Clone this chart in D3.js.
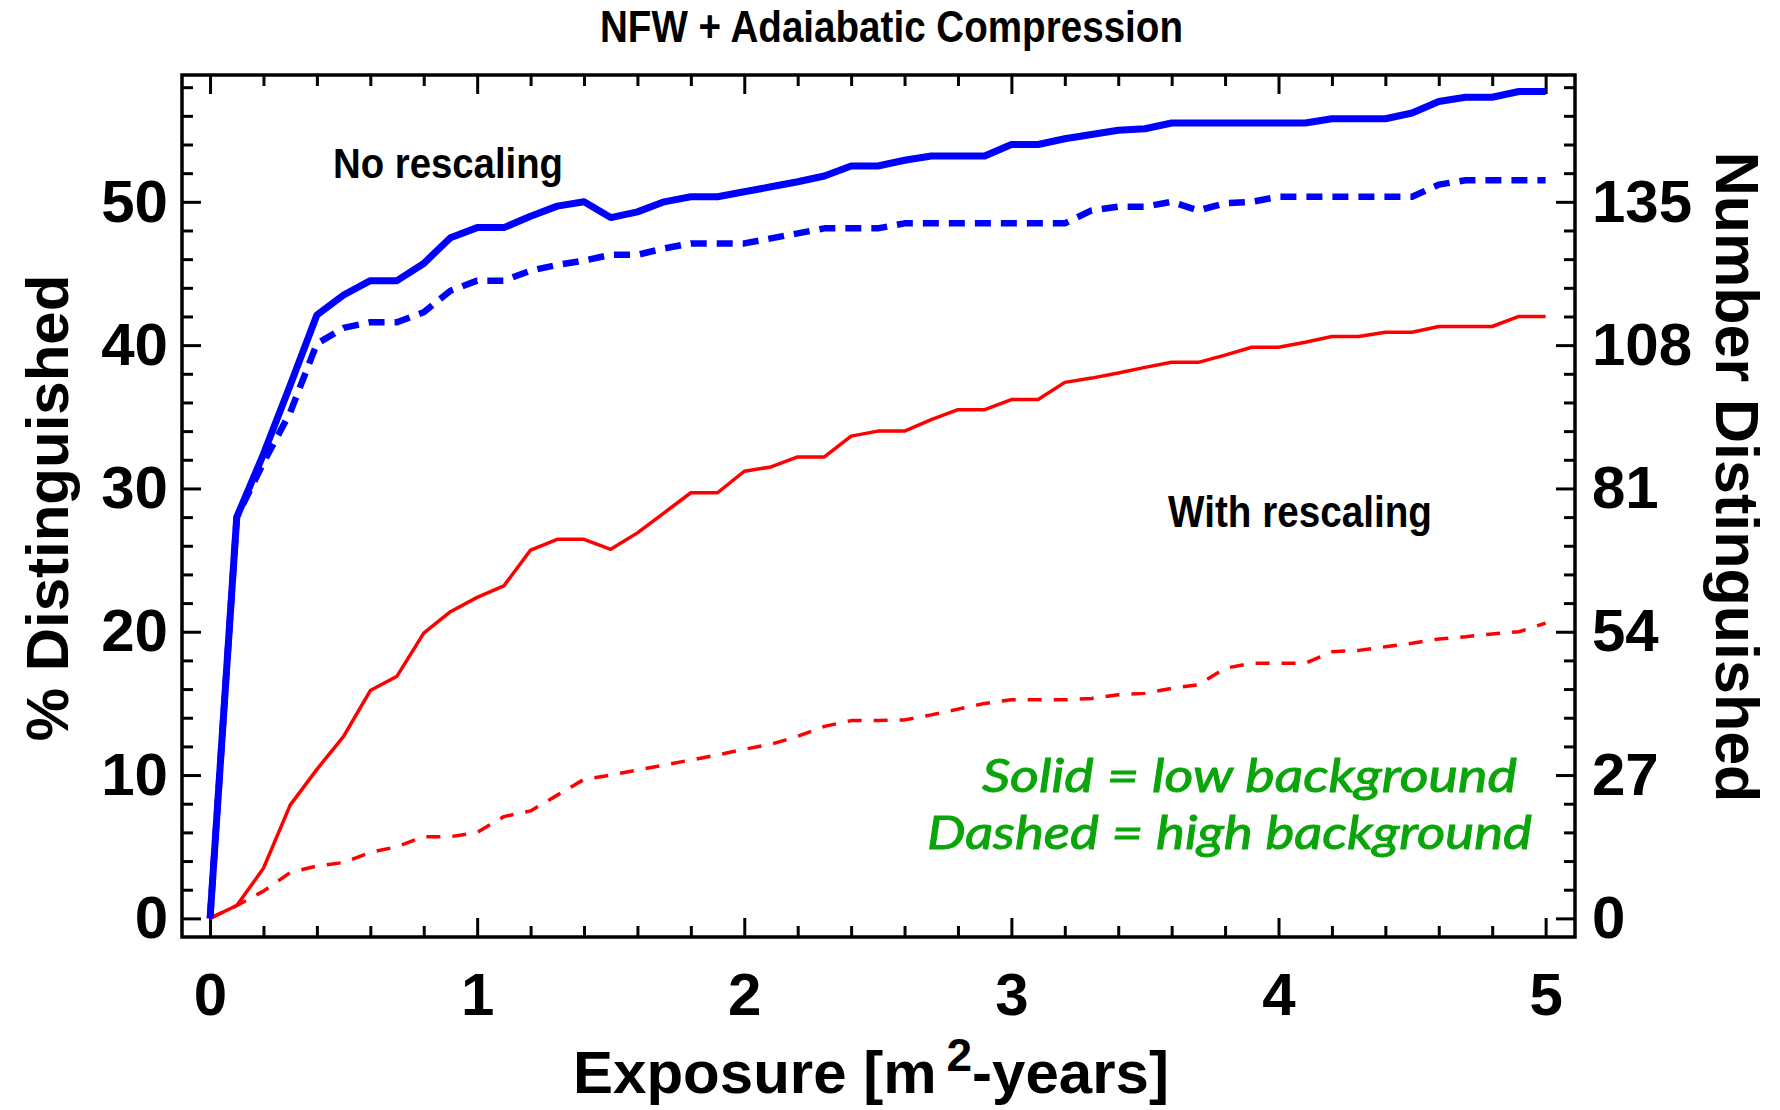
<!DOCTYPE html>
<html>
<head>
<meta charset="utf-8">
<script src="https://cdn.jsdelivr.net/npm/d3@7"></script>
<style>
  html, body { margin: 0; padding: 0; background: #ffffff; }
  svg { display: block; }
</style>
</head>
<body>
<svg id="chart" width="1780" height="1110"></svg>
<script>
// Exposure grid (m^2-years)
const exposure = [0.0,0.1,0.2,0.3,0.4,0.5,0.6,0.7,0.8,0.9,
                  1.0,1.1,1.2,1.3,1.4,1.5,1.6,1.7,1.8,1.9,
                  2.0,2.1,2.2,2.3,2.4,2.5,2.6,2.7,2.8,2.9,
                  3.0,3.1,3.2,3.3,3.4,3.5,3.6,3.7,3.8,3.9,
                  4.0,4.1,4.2,4.3,4.4,4.5,4.6,4.7,4.8,4.9,5.0];

// % distinguished, no rescaling, low background (solid blue)
const noRescaleLow = [0,28.0,32.4,37.2,42.1,43.5,44.5,44.5,45.7,47.5,
                      48.2,48.2,49.0,49.7,50.0,48.9,49.3,50.0,50.35,50.35,
                      50.7,51.05,51.4,51.8,52.5,52.5,52.9,53.2,53.2,53.2,
                      54.0,54.0,54.4,54.7,55.0,55.1,55.5,55.5,55.5,55.5,
                      55.5,55.5,55.8,55.8,55.8,56.2,57.0,57.3,57.3,57.7,57.7];

// % distinguished, no rescaling, high background (dashed blue)
const noRescaleHigh = [0,28.0,31.8,35.3,40.1,41.2,41.6,41.6,42.3,43.8,
                       44.5,44.5,45.2,45.6,45.9,46.3,46.3,46.75,47.1,47.1,
                       47.1,47.45,47.8,48.15,48.15,48.15,48.5,48.5,48.5,48.5,
                       48.5,48.5,48.5,49.4,49.66,49.66,50.0,49.4,49.9,50.0,
                       50.35,50.35,50.35,50.35,50.35,50.35,51.2,51.5,51.5,51.5,51.5];

// % distinguished, with rescaling, low background (solid red)
const rescaleLow = [0,0.9,3.5,7.9,10.4,12.7,15.9,16.9,19.9,21.4,
                    22.4,23.2,25.7,26.45,26.45,25.75,26.9,28.3,29.7,29.7,
                    31.2,31.5,32.2,32.2,33.65,34.0,34.0,34.8,35.5,35.5,
                    36.2,36.2,37.4,37.7,38.05,38.45,38.8,38.8,39.3,39.85,
                    39.85,40.2,40.6,40.6,40.9,40.9,41.3,41.3,41.3,42.0,42.0];

// % distinguished, with rescaling, high background (dashed red)
const rescaleHigh = [0,0.9,1.9,3.2,3.65,3.9,4.6,5.0,5.7,5.7,
                     6.0,7.1,7.5,8.6,9.7,10.0,10.35,10.7,11.05,11.4,
                     11.8,12.15,12.7,13.4,13.8,13.8,13.85,14.2,14.6,15.0,
                     15.25,15.25,15.25,15.35,15.6,15.7,16.05,16.3,17.45,17.8,
                     17.8,17.8,18.6,18.7,18.95,19.2,19.5,19.65,19.85,20.0,20.6];

// Tick values
const xMajorTicks = [0, 1, 2, 3, 4, 5];
const xMinorTicks = d3.range(0, 26).map(i => +(i * 0.2).toFixed(1)).filter(v => !xMajorTicks.includes(v));
const pctMajorTicks = [0, 10, 20, 30, 40, 50];
const pctMinorTicks = d3.range(0, 30).map(i => i * 2).filter(v => v % 10 !== 0);
const numMajorTicks = [0, 27, 54, 81, 108, 135];
const numMinorTicks = d3.range(0, 30).map(i => +(i * 5.4).toFixed(1)).filter(v => Math.abs(v / 27 - Math.round(v / 27)) > 1e-6 && v < 158);

// Total number of models: 100% corresponds to 270
const totalCount = 270;

const svg = d3.select("#chart");
const frame = { left: 182, right: 1575, top: 75, bottom: 937 };

const x = d3.scaleLinear().domain([-0.105, 5.11]).range([frame.left, frame.right]);
const y = d3.scaleLinear().domain([-1.3, 58.85]).range([frame.bottom, frame.top]);
const yN = d3.scaleLinear().domain([-1.3 * totalCount / 100, 58.85 * totalCount / 100]).range([frame.bottom, frame.top]);

const tickFont = "'Liberation Sans', Arial, Helvetica, sans-serif";

function styleAxis(g, labelled) {
  g.select(".domain").remove();
  g.selectAll(".tick line").attr("stroke", "#000").attr("stroke-width", 3);
  g.selectAll("text")
    .attr("fill", "#000")
    .attr("font-family", tickFont)
    .attr("font-weight", "bold")
    .attr("font-size", 60);
  if (!labelled) g.selectAll("text").remove();
}

// Bottom axis
svg.append("g").attr("transform", `translate(0,${frame.bottom})`)
  .call(d3.axisBottom(x).tickValues(xMajorTicks).tickSizeInner(-19).tickSizeOuter(0).tickPadding(35).tickFormat(d3.format("d")))
  .call(g => styleAxis(g, true));
svg.append("g").attr("transform", `translate(0,${frame.bottom})`)
  .call(d3.axisBottom(x).tickValues(xMinorTicks).tickSizeInner(-11).tickSizeOuter(0).tickFormat(""))
  .call(g => styleAxis(g, false));

// Top axis
svg.append("g").attr("transform", `translate(0,${frame.top})`)
  .call(d3.axisTop(x).tickValues(xMajorTicks).tickSizeInner(-19).tickSizeOuter(0).tickFormat(""))
  .call(g => styleAxis(g, false));
svg.append("g").attr("transform", `translate(0,${frame.top})`)
  .call(d3.axisTop(x).tickValues(xMinorTicks).tickSizeInner(-11).tickSizeOuter(0).tickFormat(""))
  .call(g => styleAxis(g, false));

// Left axis (percent)
svg.append("g").attr("transform", `translate(${frame.left},0)`)
  .call(d3.axisLeft(y).tickValues(pctMajorTicks).tickSizeInner(-19).tickSizeOuter(0).tickPadding(14).tickFormat(d3.format("d")))
  .call(g => styleAxis(g, true));
svg.append("g").attr("transform", `translate(${frame.left},0)`)
  .call(d3.axisLeft(y).tickValues(pctMinorTicks).tickSizeInner(-11).tickSizeOuter(0).tickFormat(""))
  .call(g => styleAxis(g, false));

// Right axis (number)
svg.append("g").attr("transform", `translate(${frame.right},0)`)
  .call(d3.axisRight(yN).tickValues(numMajorTicks).tickSizeInner(-19).tickSizeOuter(0).tickPadding(17).tickFormat(d3.format("d")))
  .call(g => styleAxis(g, true));
svg.append("g").attr("transform", `translate(${frame.right},0)`)
  .call(d3.axisRight(yN).tickValues(numMinorTicks).tickSizeInner(-11).tickSizeOuter(0).tickFormat(""))
  .call(g => styleAxis(g, false));

// Plot frame
svg.append("rect")
  .attr("x", frame.left).attr("y", frame.top)
  .attr("width", frame.right - frame.left).attr("height", frame.bottom - frame.top)
  .attr("fill", "none").attr("stroke", "#000").attr("stroke-width", 3.5);

// Curves
const series = [
  { values: rescaleHigh,   color: "#ff0000", width: 3.5, dash: "14,12" },
  { values: rescaleLow,    color: "#ff0000", width: 3.5, dash: null },
  { values: noRescaleLow,  color: "#0000ff", width: 7,   dash: null },
  { values: noRescaleHigh, color: "#0000ff", width: 6.5, dash: "16,10" }
];

const line = d3.line().x((d, i) => x(exposure[i])).y(d => y(d));

svg.append("g").selectAll("path").data(series).join("path")
  .attr("d", s => line(s.values))
  .attr("fill", "none")
  .attr("stroke", s => s.color)
  .attr("stroke-width", s => s.width)
  .attr("stroke-linejoin", "round")
  .attr("stroke-dasharray", s => s.dash);

// Title
svg.append("text")
  .attr("x", 600).attr("y", 42)
  .attr("font-family", tickFont).attr("font-weight", "bold").attr("font-size", 44)
  .attr("textLength", 583).attr("lengthAdjust", "spacingAndGlyphs")
  .text("NFW + Adaiabatic Compression");

// Annotations
svg.append("text")
  .attr("x", 333).attr("y", 178)
  .attr("font-family", tickFont).attr("font-weight", "bold").attr("font-size", 43)
  .attr("textLength", 230).attr("lengthAdjust", "spacingAndGlyphs")
  .text("No rescaling");

svg.append("text")
  .attr("x", 1168).attr("y", 527)
  .attr("font-family", tickFont).attr("font-weight", "bold").attr("font-size", 44)
  .attr("textLength", 264).attr("lengthAdjust", "spacingAndGlyphs")
  .text("With rescaling");

// Line-style key
const greenFont = "Lato, 'Open Sans', sans-serif";
const green = "#0aa50a";
svg.append("text")
  .attr("x", 982).attr("y", 792)
  .attr("font-family", greenFont).attr("font-style", "italic").attr("font-size", 47)
  .attr("fill", green).attr("stroke", green).attr("stroke-width", 1)
  .attr("textLength", 535).attr("lengthAdjust", "spacingAndGlyphs")
  .text("Solid = low background");
svg.append("text")
  .attr("x", 927).attr("y", 849)
  .attr("font-family", greenFont).attr("font-style", "italic").attr("font-size", 47)
  .attr("fill", green).attr("stroke", green).attr("stroke-width", 1)
  .attr("textLength", 605).attr("lengthAdjust", "spacingAndGlyphs")
  .text("Dashed = high background");

// Axis titles
svg.append("text")
  .attr("transform", "translate(68,508) rotate(-90)")
  .attr("text-anchor", "middle")
  .attr("font-family", tickFont).attr("font-weight", "bold").attr("font-size", 60)
  .text("% Distinguished");

svg.append("text")
  .attr("transform", "translate(1716,477) rotate(90)")
  .attr("text-anchor", "middle")
  .attr("font-family", tickFont).attr("font-weight", "bold").attr("font-size", 61)
  .text("Number Distinguished");

const xTitle = svg.append("text")
  .attr("x", 871).attr("y", 1093)
  .attr("text-anchor", "middle")
  .attr("font-family", tickFont).attr("font-weight", "bold").attr("font-size", 60);
xTitle.append("tspan").text("Exposure [m");
xTitle.append("tspan").attr("font-size", 46).attr("dx", 10).attr("dy", -22).text("2");
xTitle.append("tspan").attr("dy", 22).text("-years]");
</script>
</body>
</html>
